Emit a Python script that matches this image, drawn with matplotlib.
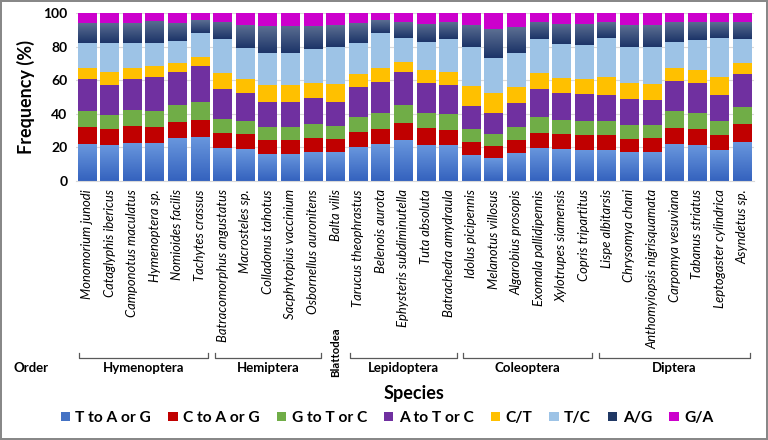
import numpy as np
import matplotlib
matplotlib.use("Agg")
import matplotlib.pyplot as plt
from matplotlib.colors import LinearSegmentedColormap
import matplotlib.transforms as mtransforms

plt.rcParams['font.family'] = ['Lato', 'DejaVu Sans']

species = ["Monomorium junodi", "Cataglyphis ibericus", "Camponotus maculatus",
           "Hymenoptera sp.", "Nomioides facilis", "Tachytes crassus",
           "Batracomorphus angustatus", "Macrosteles sp.", "Colladonus tahotus",
           "Sacphytopius vaccinium", "Osbornellus auronitens", "Balta vilis",
           "Tarucus theophrastus", "Belenois aurota", "Ephysteris subdiminutella",
           "Tuta absoluta", "Batrachedra amydraula", "Idolus picipennis",
           "Melanotus villosus", "Algarobius prosopis", "Exomala pallidipennis",
           "Xylotrupes siamensis", "Copris tripartitus", "Lispe albitarsis",
           "Chrysomya chani", "Anthomyiopsis nigrisquamata", "Carpomya vesuviana",
           "Tabanus striatus", "Leptogaster cylindrica", "Asyndetus sp."]

orders = ["Hymenoptera", "Hemiptera", "Blattodea", "Lepidoptera", "Coleoptera", "Diptera"]
order_counts = [6, 5, 1, 5, 6, 7]

mutations = ["T to A or G", "C to A or G", "G to T or C", "A to T or C", "C/T", "T/C", "A/G", "G/A"]

t_to_ag = [22.0, 21.4, 22.8, 22.8, 25.8, 26.4, 19.5, 18.9, 16.3, 16.1, 17.5, 17.1, 20.4, 22.0, 24.4,
           21.6, 21.4, 15.3, 13.5, 16.5, 19.8, 19.0, 18.7, 18.5, 17.4, 17.4, 22.0, 21.5, 18.5, 23.4]
c_to_ag = [10.3, 9.4, 9.9, 9.5, 9.5, 9.9, 8.9, 8.9, 8.3, 8.3, 8.3, 7.7, 8.7, 9.2, 10.3,
           9.7, 9.0, 7.9, 7.3, 7.9, 9.0, 8.7, 8.9, 8.9, 7.8, 8.0, 9.6, 9.4, 8.9, 10.3]
g_to_tc = [9.4, 8.7, 9.6, 9.4, 9.9, 10.9, 8.5, 8.1, 7.7, 7.9, 8.1, 7.9, 8.8, 9.3, 10.5,
           9.4, 9.5, 7.6, 7.4, 7.9, 9.1, 8.6, 8.3, 8.5, 8.1, 7.7, 10.1, 9.8, 8.5, 10.5]
a_to_tc = [18.8, 17.6, 18.2, 20.4, 19.8, 21.3, 17.7, 16.7, 14.9, 14.9, 15.3, 14.5, 18.2, 18.2, 19.8,
           17.7, 17.2, 13.8, 12.0, 13.9, 16.7, 16.3, 15.9, 15.3, 15.3, 15.3, 18.0, 17.8, 15.3, 19.5]
c_t = [6.5, 7.6, 6.6, 6.4, 5.0, 5.5, 9.5, 8.1, 9.9, 9.9, 9.3, 10.5, 7.6, 8.7, 6.0,
       7.6, 7.9, 11.9, 11.9, 9.9, 9.5, 8.9, 8.9, 10.9, 9.5, 9.5, 7.4, 7.6, 10.9, 6.3]
t_c = [15.3, 17.3, 14.9, 13.5, 13.3, 14.3, 20.2, 18.6, 19.0, 18.9, 19.9, 22.3, 18.6, 20.9, 14.3,
       16.8, 19.3, 23.1, 21.2, 20.3, 20.2, 20.0, 20.3, 23.2, 21.9, 21.9, 15.8, 17.8, 23.2, 14.3]
a_g = [11.7, 12.0, 11.9, 13.5, 10.9, 7.5, 10.5, 13.6, 16.0, 16.3, 13.9, 12.9, 11.5, 7.5, 9.5,
       10.9, 10.1, 13.3, 16.9, 15.4, 10.5, 12.0, 12.5, 9.5, 12.9, 12.9, 11.5, 10.9, 9.5, 10.5]
g_a = [6.0, 6.0, 6.0, 6.0, 5.8, 4.2, 5.2, 7.1, 7.7, 7.7, 7.7, 7.1, 6.2, 4.2, 5.2,
       6.2, 5.6, 7.1, 10.1, 8.2, 5.2, 6.5, 6.5, 5.2, 7.1, 7.1, 5.6, 5.2, 5.2, 5.2]

series = [t_to_ag, c_to_ag, g_to_tc, a_to_tc, c_t, t_c, a_g, g_a]
colors = ["#4472C4", "#C00000", "#70AD47", "#7030A0", "#FFC000", "#9DC3E6", "#203864", "#CC00CC"]
# gradient fills (bottom colour, top colour) for the two shaded series
gradients = {0: ("#3462BE", "#6A98DE"), 6: ("#1C3468", "#5C6F92")}

fig = plt.figure(figsize=(7.68, 4.4), dpi=100)
fig.patch.set_edgecolor("#888888")
fig.patch.set_linewidth(1.5)
ax = fig.add_axes([0.0986, 0.5886, 0.8828, 0.3819])

x = np.arange(len(species))
width = 0.84
bottom = np.zeros(len(species))
grad = np.linspace(0, 1, 256).reshape(-1, 1)
for i, vals in enumerate(series):
    vals = np.array(vals)
    bars = ax.bar(x, vals, width, bottom=bottom, color=colors[i], label=mutations[i],
                  linewidth=0, zorder=2)
    if i in gradients:
        cmap = LinearSegmentedColormap.from_list("g%d" % i, gradients[i])
        for p in bars.patches:
            x0, y0 = p.get_x(), p.get_y()
            im = ax.imshow(grad, cmap=cmap, origin="lower", aspect="auto", zorder=2.5,
                           extent=[x0, x0 + p.get_width(), y0, y0 + p.get_height()])
            im.set_clip_path(p)
    bottom += vals

ax.set_xlim(-0.5, len(species) - 0.5)
ax.set_ylim(0, 100)
ax.set_yticks(np.arange(0, 101, 20))
ax.yaxis.grid(True, color="#D9D9D9", linewidth=0.8, zorder=0)
ax.set_axisbelow(True)
for s in ["top", "right", "left"]:
    ax.spines[s].set_visible(False)
ax.spines["bottom"].set_color("#D9D9D9")
ax.tick_params(axis="y", length=0, pad=6, labelsize=10)
ax.tick_params(axis="x", length=0, pad=6)
for lab in ax.get_yticklabels():
    lab.set_fontweight("bold")
ax.set_xticks(x)
ax.set_xticklabels(species, rotation=90, fontstyle="italic", fontsize=9.4, va="top")
ax.set_ylabel("Frequency (%)", fontsize=13, fontweight="bold", labelpad=6)

# order brackets below the species names
trans = mtransforms.blended_transform_factory(ax.transData, fig.transFigure)
y_line = 1 - 357.5 / 440
y_tick = 1 - 352.5 / 440
y_txt = 1 - 367.5 / 440
start = 0
for name, n in zip(orders, order_counts):
    lo, hi = start - 0.5, start + n - 0.5
    mid = (lo + hi) / 2
    if n > 1:
        lo += 0.15
        hi -= 0.15
        ax.plot([lo, lo, hi, hi], [y_tick, y_line, y_line, y_tick], transform=trans,
                color="#595959", linewidth=0.9, clip_on=False)
        fig.text(mid, y_txt, name, transform=trans, ha="center", va="center",
                 fontsize=9.5, fontweight="bold")
    else:
        fig.text(mid, 1 - 352 / 440, name, transform=trans, ha="center", va="center",
                 fontsize=8.2, fontweight="bold", rotation=90)
    start += n

fig.text(31.5 / 768, y_txt, "Order", ha="center", va="center", fontsize=9.5, fontweight="bold")
fig.text(414 / 768, 1 - 393 / 440, "Species", ha="center", va="center", fontsize=13,
         fontweight="bold")

handles, labels = ax.get_legend_handles_labels()
leg = fig.legend(handles, labels, loc="center", bbox_to_anchor=(387 / 768, 1 - 418 / 440),
                 ncol=8, frameon=False, handlelength=0.6, handleheight=0.6,
                 handletextpad=0.35, columnspacing=1.1, borderpad=0,
                 prop={"weight": "bold", "size": 11.2})

fig.savefig("out.png", dpi=100)
